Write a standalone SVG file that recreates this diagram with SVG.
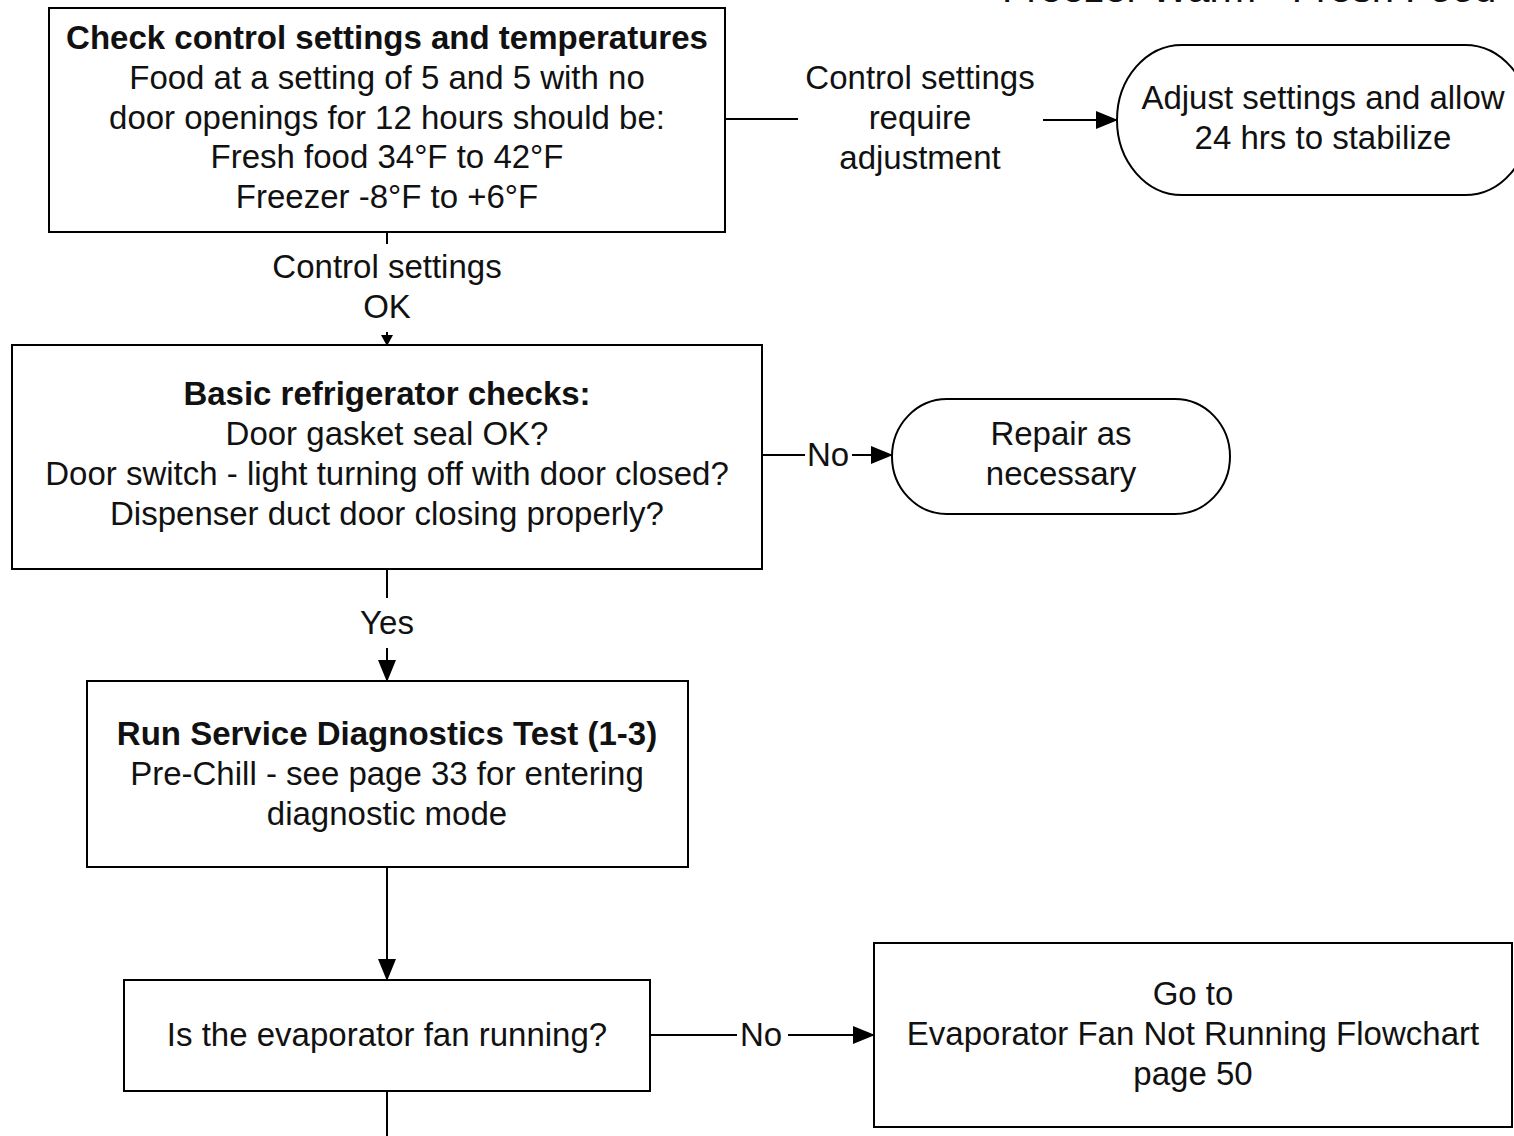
<svg xmlns="http://www.w3.org/2000/svg" width="1514" height="1136" viewBox="0 0 1514 1136">
  <style>
    .box { fill: #fff; stroke: #000; stroke-width: 2; }
    .term { fill: #fff; stroke: #000; stroke-width: 2; }
    .line { fill: none; stroke: #000; stroke-width: 2; }
    text { font-family: "Liberation Sans", Arial, sans-serif; font-size: 33px; fill: #111; text-anchor: middle; }
    .b { font-weight: bold; }
    .title { font-size: 40px; text-anchor: start; }
  </style>
  <defs>
    <marker id="arrow" markerUnits="userSpaceOnUse" markerWidth="22" markerHeight="18" refX="21" refY="9" orient="auto">
      <path d="M0,0 L22,9 L0,18 z" fill="#000"/>
    </marker>
    <marker id="arrowSmall" markerUnits="userSpaceOnUse" markerWidth="11" markerHeight="12" refX="10" refY="6" orient="auto">
      <path d="M0,0 L11,6 L0,12 z" fill="#000"/>
    </marker>
  </defs>

  <rect width="1514" height="1136" fill="#fff"/>

  <!-- page heading, running off the top edge -->
  <text class="title" x="1002" y="2">Freezer Warm - Fresh Food</text>

  <!-- connectors -->
  <g id="connectors">
    <!-- check settings -> adjust -->
    <line class="line" x1="725" y1="119" x2="798" y2="119"/>
    <line class="line" x1="1043" y1="120" x2="1117" y2="120" marker-end="url(#arrow)"/>
    <text x="920" y="89">Control settings</text>
    <text x="920" y="129">require</text>
    <text x="920" y="169">adjustment</text>

    <!-- check settings -> basic checks -->
    <line class="line" x1="387" y1="232" x2="387" y2="244"/>
    <line class="line" x1="387" y1="332" x2="387" y2="345" marker-end="url(#arrowSmall)"/>
    <text x="387" y="278">Control settings</text>
    <text x="387" y="318">OK</text>

    <!-- basic checks -> repair -->
    <line class="line" x1="762" y1="455" x2="805" y2="455"/>
    <text x="828" y="466">No</text>
    <line class="line" x1="852" y1="455" x2="892" y2="455" marker-end="url(#arrow)"/>

    <!-- basic checks -> diagnostics -->
    <line class="line" x1="387" y1="569" x2="387" y2="598"/>
    <text x="387" y="634">Yes</text>
    <line class="line" x1="387" y1="648" x2="387" y2="681" marker-end="url(#arrow)"/>

    <!-- diagnostics -> fan question -->
    <line class="line" x1="387" y1="867" x2="387" y2="980" marker-end="url(#arrow)"/>

    <!-- fan question -> fan flowchart -->
    <line class="line" x1="650" y1="1035" x2="737" y2="1035"/>
    <text x="761" y="1046">No</text>
    <line class="line" x1="788" y1="1035" x2="874" y2="1035" marker-end="url(#arrow)"/>

    <!-- fan question continues downward -->
    <line class="line" x1="387" y1="1091" x2="387" y2="1140"/>
  </g>

  <g id="check-settings">
    <rect class="box" x="49" y="8" width="676" height="224"/>
    <text class="b" x="387" y="49">Check control settings and temperatures</text>
    <text x="387" y="89">Food at a setting of 5 and 5 with no</text>
    <text x="387" y="129">door openings for 12 hours should be:</text>
    <text x="387" y="168">Fresh food 34°F to 42°F</text>
    <text x="387" y="208">Freezer -8°F to +6°F</text>
  </g>

  <g id="adjust-settings">
    <rect class="term" x="1117" y="45" width="413" height="150" rx="65" ry="75"/>
    <text x="1323" y="109">Adjust settings and allow</text>
    <text x="1323" y="149">24 hrs to stabilize</text>
  </g>

  <g id="basic-checks">
    <rect class="box" x="12" y="345" width="750" height="224"/>
    <text class="b" x="387" y="405">Basic refrigerator checks:</text>
    <text x="387" y="445">Door gasket seal OK?</text>
    <text x="387" y="485">Door switch - light turning off with door closed?</text>
    <text x="387" y="525">Dispenser duct door closing properly?</text>
  </g>

  <g id="repair">
    <rect class="term" x="892" y="399" width="338" height="115" rx="55" ry="57.5"/>
    <text x="1061" y="445">Repair as</text>
    <text x="1061" y="485">necessary</text>
  </g>

  <g id="run-diagnostics">
    <rect class="box" x="87" y="681" width="601" height="186"/>
    <text class="b" x="387" y="745">Run Service Diagnostics Test (1-3)</text>
    <text x="387" y="785">Pre-Chill - see page 33 for entering</text>
    <text x="387" y="825">diagnostic mode</text>
  </g>

  <g id="fan-running">
    <rect class="box" x="124" y="980" width="526" height="111"/>
    <text x="387" y="1046">Is the evaporator fan running?</text>
  </g>

  <g id="fan-flowchart">
    <rect class="box" x="874" y="943" width="638" height="184"/>
    <text x="1193" y="1005">Go to</text>
    <text x="1193" y="1045">Evaporator Fan Not Running Flowchart</text>
    <text x="1193" y="1085">page 50</text>
  </g>
</svg>
